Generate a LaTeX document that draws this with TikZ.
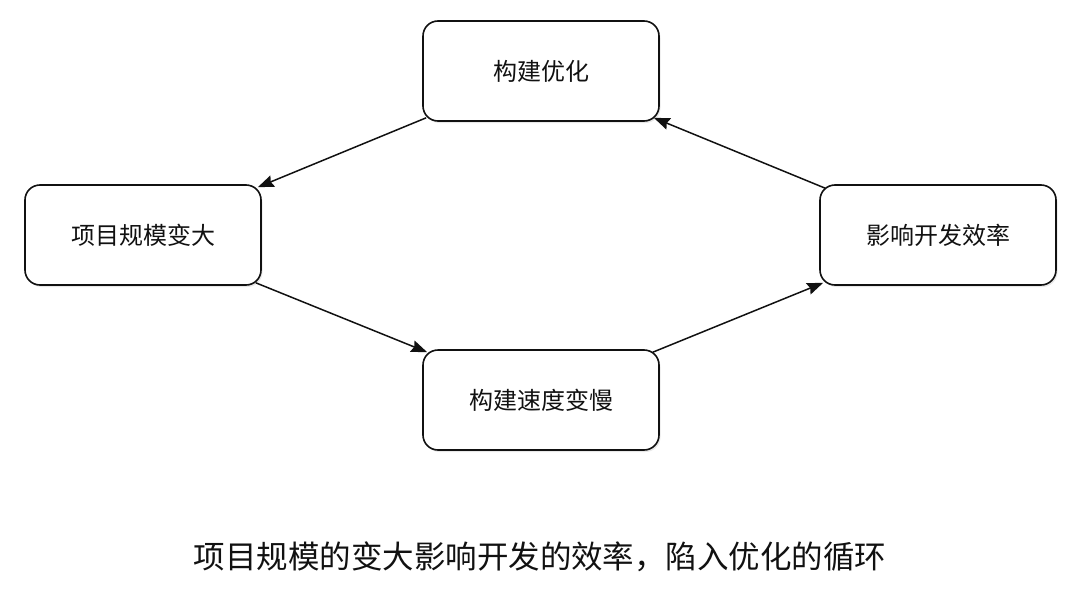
\documentclass[tikz,border=0pt]{standalone}
\usepackage{fontspec}
\setmainfont{Noto Sans CJK SC}
\usetikzlibrary{arrows.meta,shadows}
\definecolor{ink}{HTML}{111111}
\tikzset{
  stepbox/.style={draw=ink, line width=1.6pt, rounded corners=15pt, fill=white,
    minimum width=236pt, minimum height=100pt, inner sep=0pt,
    font=\fontsize{24pt}{28pt}\selectfont, text=ink,
    drop shadow={opacity=0.18, shadow xshift=1.5pt, shadow yshift=-2pt}},
  flow/.style={draw=ink, line width=1.5pt, -{Stealth[length=16pt,width=12pt,inset=2pt]}}
}
\begin{document}
\begin{tikzpicture}[x=1pt,y=-1pt]
\useasboundingbox (0,0) rectangle (1080,608);
\node[stepbox] (opt) at (541,71) {构建优化};
\node[stepbox] (grow) at (143,235) {项目规模变大};
\node[stepbox] (slow) at (541,400) {构建速度变慢};
\node[stepbox] (eff) at (938,235) {影响开发效率};
\node[font=\fontsize{31.5pt}{36pt}\selectfont, text=ink] (cap) at (540,557) {项目规模的变大影响开发的效率，陷入优化的循环};
\draw[flow] ([shift={(4,-4)}]opt.south west) -- ([shift={(-4,3)}]grow.north east);
\draw[flow] ([shift={(-6,-3)}]grow.south east) -- ([shift={(5,3)}]slow.north west);
\draw[flow] ([shift={(-7,3)}]slow.north east) -- ([shift={(4,-3)}]eff.south west);
\draw[flow] ([shift={(6,4)}]eff.north west) -- ([shift={(-6,-4)}]opt.south east);
\end{tikzpicture}
\end{document}
